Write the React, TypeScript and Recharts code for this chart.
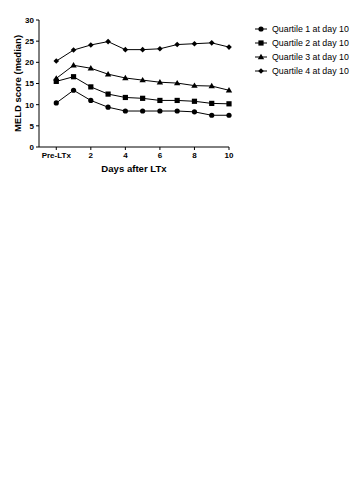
import React from "react";
import { LineChart, Line, XAxis, YAxis } from "recharts";

const days = [0, 1, 2, 3, 4, 5, 6, 7, 8, 9, 10];
const q1 = [10.4, 13.4, 11.0, 9.4, 8.5, 8.5, 8.5, 8.5, 8.3, 7.5, 7.5];
const q2 = [15.5, 16.6, 14.2, 12.5, 11.7, 11.5, 11.0, 11.0, 10.8, 10.3, 10.2];
const q3 = [16.2, 19.3, 18.6, 17.2, 16.3, 15.8, 15.3, 15.1, 14.5, 14.4, 13.4];
const q4 = [20.3, 22.9, 24.1, 24.9, 23.0, 23.0, 23.2, 24.2, 24.4, 24.6, 23.6];
const xTicks = [0, 2, 4, 6, 8, 10];
const yTicks = [0, 5, 10, 15, 20, 25, 30];
const seriesNames = [
  "Quartile 1 at day 10",
  "Quartile 2 at day 10",
  "Quartile 3 at day 10",
  "Quartile 4 at day 10",
];
const shapes = ["circle", "square", "triangle", "diamond"];

const data = days.map((d, i) => ({ day: d, q1: q1[i], q2: q2[i], q3: q3[i], q4: q4[i] }));

function Marker({ cx, cy, shape }: { cx: number; cy: number; shape: string }) {
  if (cx == null || cy == null) return null;
  if (shape === "circle") return <circle cx={cx} cy={cy} r={2.6} fill="#000" />;
  if (shape === "square") return <rect x={cx - 2.6} y={cy - 2.6} width={5.2} height={5.2} fill="#000" />;
  if (shape === "triangle")
    return <polygon points={`${cx},${cy - 3.2} ${cx + 3.2},${cy + 2.2} ${cx - 3.2},${cy + 2.2}`} fill="#000" />;
  return <polygon points={`${cx},${cy - 2.8} ${cx + 2.8},${cy} ${cx},${cy + 2.8} ${cx - 2.8},${cy}`} fill="#000" />;
}

const font = "'Liberation Sans', Arial, sans-serif";

function LegendBox() {
  return (
    <svg
      width={110}
      height={64}
      style={{ position: "absolute", left: 255, top: 22, overflow: "visible" }}
    >
      {seriesNames.map((n, i) => {
        const y = 7 + i * 14;
        return (
          <g key={n}>
            <line x1={0} x2={12} y1={y} y2={y} stroke="#000" strokeWidth={1} />
            <Marker cx={6} cy={y} shape={shapes[i]} />
            <text x={17} y={y + 3} fontSize={8.8} fontFamily={font} fill="#000">
              {n}
            </text>
          </g>
        );
      })}
    </svg>
  );
}

const keys = ["q1", "q2", "q3", "q4"];

export default function App() {
  return (
    <div style={{ position: "absolute", left: 0, top: 0, width: 363, height: 480, background: "#fff" }}>
      <LineChart
        width={363}
        height={480}
        data={data}
        margin={{ top: 20, left: 19, right: 134, bottom: 303 }}
      >
        <XAxis
          dataKey="day"
          type="number"
          domain={[-1, 10]}
          ticks={xTicks}
          tickFormatter={(v: number) => (v === 0 ? "Pre-LTx" : String(v))}
          height={30}
          stroke="#000"
          tickSize={3}
          tick={{ fontSize: 8, fontWeight: "bold", fill: "#000", fontFamily: font }}
          interval={0}
          label={{
            value: "Days after LTx",
            position: "insideBottom",
            offset: 5,
            style: { fontSize: 9.6, fontWeight: "bold", fill: "#000", fontFamily: font },
          }}
        />
        <YAxis
          domain={[0, 30]}
          ticks={yTicks}
          width={20}
          stroke="#000"
          tickSize={3}
          interval={0}
          tick={{ fontSize: 8, fontWeight: "bold", fill: "#000", fontFamily: font }}
          label={{
            value: "MELD score (median)",
            angle: -90,
            position: "insideLeft",
            offset: -1,
            style: { fontSize: 9.5, fontWeight: "bold", fill: "#000", fontFamily: font, textAnchor: "middle" },
          }}
        />
        {keys.map((k, i) => (
          <Line
            key={k}
            dataKey={k}
            name={seriesNames[i]}
            stroke="#000"
            strokeWidth={1}
            isAnimationActive={false}
            dot={(p: any) => <Marker key={`${k}-${p.index}`} cx={p.cx} cy={p.cy} shape={shapes[i]} />}
            activeDot={false}
          />
        ))}
      </LineChart>
      <LegendBox />
    </div>
  );
}
